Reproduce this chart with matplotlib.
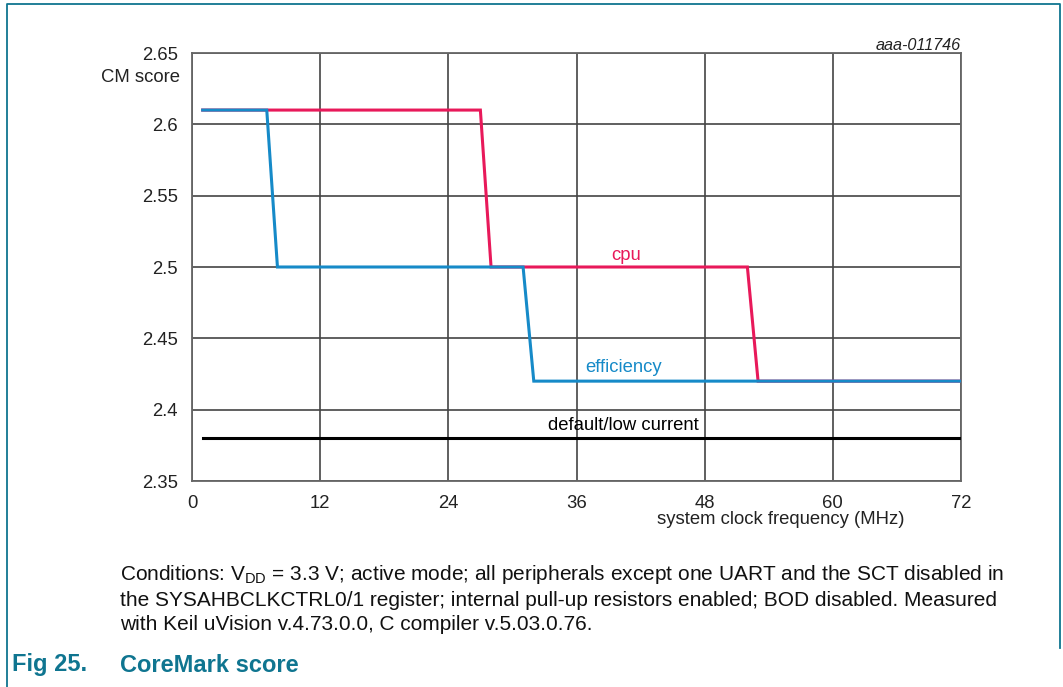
import matplotlib
matplotlib.use('Agg')
import matplotlib.pyplot as plt
from matplotlib.lines import Line2D

plt.rcParams['font.family'] = ['Liberation Sans', 'DejaVu Sans']
plt.rcParams['mathtext.fontset'] = 'custom'
plt.rcParams['mathtext.rm'] = 'Liberation Sans'

# data
cpu_mhz = [1, 27, 28, 52, 53, 72]
cpu_score = [2.61, 2.61, 2.5, 2.5, 2.42, 2.42]
eff_mhz = [1, 7, 8, 31, 32, 72]
eff_score = [2.61, 2.61, 2.5, 2.5, 2.42, 2.42]
low_mhz = [1, 72]
low_score = [2.38, 2.38]

x_ticks = [0, 12, 24, 36, 48, 60, 72]
y_ticks = [2.35, 2.4, 2.45, 2.5, 2.55, 2.6, 2.65]
y_labels = ['2.35', '2.4', '2.45', '2.5', '2.55', '2.6', '2.65']

RED = '#e8195a'
BLUE = '#168ac8'
TEAL = '#0f7590'
FS = 13.3

W, H = 1063, 687
fig = plt.figure(figsize=(W / 100, H / 100), dpi=100)
ax = fig.add_axes([192 / W, 1 - 481 / H, (961 - 192) / W, (481 - 53) / H])

ax.plot(cpu_mhz, cpu_score, color=RED, lw=2.2, solid_joinstyle='miter', zorder=3)
ax.plot(eff_mhz, eff_score, color=BLUE, lw=2.2, solid_joinstyle='miter', zorder=4)
ax.plot(low_mhz, low_score, color='black', lw=2.2, zorder=3)

ax.set_xlim(0, 72)
ax.set_ylim(2.35, 2.65)
ax.set_xticks(x_ticks)
ax.set_yticks(y_ticks)
ax.set_yticklabels(y_labels)
ax.tick_params(length=0, labelsize=FS, pad=10, colors='#222')
ax.grid(True, color='#444', lw=1.2)
ax.set_axisbelow(True)
for s in ax.spines.values():
    s.set_color('#666')
    s.set_linewidth(1.3)

ax.text(40.6, 2.5084, 'cpu', color=RED, fontsize=FS, ha='center', va='center')
ax.text(40.4, 2.4299, 'efficiency', color=BLUE, fontsize=FS, ha='center', va='center')
ax.text(40.4, 2.3886, 'default/low current', color='black', fontsize=FS, ha='center', va='center')

# axis labels and tag
fig.text(180 / W, 1 - 78 / H, 'CM score', fontsize=FS, ha='right', va='center', color='#222')
fig.text(781 / W, 1 - 519 / H, 'system clock frequency (MHz)', fontsize=FS,
         ha='center', va='center', color='#222')
fig.text(961 / W, 1 - 45 / H, 'aaa-011746', fontsize=11.7, style='italic',
         ha='right', va='center', color='#222')

# caption
caption = [
    'Conditions: V$_{\\mathrm{DD}}$ = 3.3 V; active mode; all peripherals except one UART and the SCT disabled in',
    'the SYSAHBCLKCTRL0/1 register; internal pull-up resistors enabled; BOD disabled. Measured',
    'with Keil uVision v.4.73.0.0, C compiler v.5.03.0.76.',
]
for i, line in enumerate(caption):
    fig.text(120 / W, 1 - (575 + 25 * i) / H, line, fontsize=15, ha='left', va='center', color='#111')

fig.text(12 / W, 1 - 665 / H, 'Fig 25.', fontsize=17, fontweight='bold', color=TEAL, va='center')
fig.text(120 / W, 1 - 665 / H, 'CoreMark score', fontsize=17, fontweight='bold', color=TEAL, va='center')

# frame around the figure
fig.add_artist(Line2D([7 / W, 7 / W, 1060 / W, 1060 / W], [0, 1 - 4 / H, 1 - 4 / H, 1 - 648 / H],
                      color=TEAL, lw=1.3, transform=fig.transFigure))

fig.savefig('out.png', dpi=100)
